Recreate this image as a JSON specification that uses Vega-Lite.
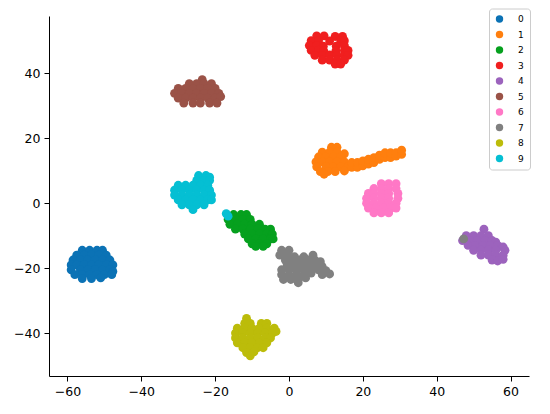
{
"$schema": "https://vega.github.io/schema/vega-lite/v6.json",
"width": 480, "height": 360,
"autosize": "none",
"padding": {"left": 49, "top": 16, "right": 21, "bottom": 38},
"background": "white",
"config": {"font": "DejaVu Sans", "view": {"stroke": null},
 "axis": {"grid": false, "domainColor": "black", "tickColor": "black", "labelColor": "black", "labelFontSize": 12.5, "tickSize": 5, "labelPadding": 4, "title": null, "domainWidth": 1, "tickWidth": 1}},
"data": {"values": [
{"c":"0","x":-56,"y":-14.5},{"c":"0","x":-54,"y":-14.5},{"c":"0","x":-52,"y":-14.5},{"c":"0","x":-50.5,"y":-14.5},
{"c":"0","x":-57.5,"y":-16},{"c":"0","x":-55.5,"y":-16},{"c":"0","x":-53.5,"y":-16},{"c":"0","x":-51.5,"y":-16},{"c":"0","x":-49.5,"y":-16},
{"c":"0","x":-58.5,"y":-17.5},{"c":"0","x":-56.5,"y":-17.5},{"c":"0","x":-54.5,"y":-17.5},{"c":"0","x":-52.5,"y":-17.5},{"c":"0","x":-50.5,"y":-17.5},{"c":"0","x":-48.5,"y":-17.5},
{"c":"0","x":-59,"y":-19},{"c":"0","x":-57.5,"y":-19},{"c":"0","x":-55.5,"y":-19},{"c":"0","x":-53.5,"y":-19},{"c":"0","x":-51.5,"y":-19},{"c":"0","x":-49.5,"y":-19},{"c":"0","x":-47.7,"y":-19},
{"c":"0","x":-59,"y":-20.5},{"c":"0","x":-56.5,"y":-20.5},{"c":"0","x":-54.5,"y":-20.5},{"c":"0","x":-52.5,"y":-20.5},{"c":"0","x":-50.5,"y":-20.5},{"c":"0","x":-48.5,"y":-20.5},{"c":"0","x":-47.7,"y":-21},
{"c":"0","x":-58,"y":-22},{"c":"0","x":-56,"y":-22},{"c":"0","x":-54,"y":-22},{"c":"0","x":-52,"y":-22},{"c":"0","x":-50,"y":-22},{"c":"0","x":-48,"y":-22},
{"c":"0","x":-56,"y":-23.2},{"c":"0","x":-53.5,"y":-23.2},{"c":"0","x":-51,"y":-23},
{"c":"1","x":11.5,"y":17.2},{"c":"1","x":13,"y":17.2},
{"c":"1","x":9,"y":15.7},{"c":"1","x":11,"y":15.7},{"c":"1","x":13,"y":15.7},{"c":"1","x":15,"y":15.2},
{"c":"1","x":8,"y":14.2},{"c":"1","x":10,"y":14.2},{"c":"1","x":12,"y":14.2},{"c":"1","x":14,"y":14.2},
{"c":"1","x":7.3,"y":12.7},{"c":"1","x":9,"y":12.7},{"c":"1","x":11,"y":12.7},{"c":"1","x":13,"y":12.7},{"c":"1","x":15,"y":12.7},
{"c":"1","x":7.5,"y":11.2},{"c":"1","x":10,"y":11.2},{"c":"1","x":12,"y":11.2},{"c":"1","x":14,"y":11.2},{"c":"1","x":16,"y":11.2},
{"c":"1","x":8.5,"y":9.7},{"c":"1","x":10.5,"y":9.7},{"c":"1","x":12.5,"y":9.7},{"c":"1","x":15,"y":9.9},{"c":"1","x":9.5,"y":8.9},
{"c":"1","x":17,"y":11},{"c":"1","x":17,"y":12.5},{"c":"1","x":18.5,"y":11},{"c":"1","x":18.5,"y":12.5},{"c":"1","x":20,"y":11.5},{"c":"1","x":20,"y":13},
{"c":"1","x":21.5,"y":12},{"c":"1","x":21.5,"y":13.5},{"c":"1","x":23,"y":12.5},{"c":"1","x":23,"y":14},{"c":"1","x":24.5,"y":13.5},{"c":"1","x":24.5,"y":14.8},
{"c":"1","x":26,"y":14},{"c":"1","x":26,"y":15.5},{"c":"1","x":27.5,"y":14},{"c":"1","x":27.5,"y":15.5},{"c":"1","x":29,"y":14.5},{"c":"1","x":29,"y":15.5},
{"c":"1","x":30.5,"y":15},{"c":"1","x":30.5,"y":16.3},
{"c":"2","x":-15,"y":-3.5},{"c":"2","x":-13,"y":-3.5},{"c":"2","x":-11.5,"y":-3.5},
{"c":"2","x":-16.5,"y":-5},{"c":"2","x":-14.5,"y":-5},{"c":"2","x":-12.5,"y":-5},{"c":"2","x":-10.5,"y":-5},
{"c":"2","x":-16,"y":-6.5},{"c":"2","x":-14,"y":-6.5},{"c":"2","x":-12,"y":-6.5},{"c":"2","x":-10,"y":-6.5},{"c":"2","x":-8,"y":-6.5},
{"c":"2","x":-14.5,"y":-8},{"c":"2","x":-12.5,"y":-8},{"c":"2","x":-10.5,"y":-8},{"c":"2","x":-8.5,"y":-8},{"c":"2","x":-6.5,"y":-8},{"c":"2","x":-5,"y":-8},
{"c":"2","x":-12,"y":-9.5},{"c":"2","x":-10,"y":-9.5},{"c":"2","x":-8,"y":-9.5},{"c":"2","x":-6,"y":-9.5},{"c":"2","x":-4.5,"y":-9.5},
{"c":"2","x":-11,"y":-11},{"c":"2","x":-9,"y":-11},{"c":"2","x":-7,"y":-11},{"c":"2","x":-5,"y":-11},{"c":"2","x":-4.3,"y":-11},
{"c":"2","x":-10,"y":-12.5},{"c":"2","x":-8,"y":-12.5},{"c":"2","x":-6,"y":-12.5},
{"c":"2","x":-9,"y":-13.3},{"c":"2","x":-7,"y":-13.3},
{"c":"3","x":7.5,"y":51.5},{"c":"3","x":9.5,"y":51.5},{"c":"3","x":12.5,"y":51.3},{"c":"3","x":14.5,"y":51.3},
{"c":"3","x":6,"y":50},{"c":"3","x":8,"y":50},{"c":"3","x":11,"y":49.9},{"c":"3","x":14,"y":50},{"c":"3","x":15,"y":50},
{"c":"3","x":5.5,"y":48.5},{"c":"3","x":7.5,"y":48.5},{"c":"3","x":9.3,"y":48.3},{"c":"3","x":12.8,"y":48.3},{"c":"3","x":15,"y":48.5},
{"c":"3","x":6,"y":47},{"c":"3","x":8,"y":47},{"c":"3","x":9.4,"y":46.9},{"c":"3","x":12.7,"y":46.9},{"c":"3","x":15,"y":47},{"c":"3","x":16,"y":47},
{"c":"3","x":7,"y":45.5},{"c":"3","x":9,"y":45.5},{"c":"3","x":11,"y":45.6},{"c":"3","x":13,"y":45.5},{"c":"3","x":15,"y":45.5},{"c":"3","x":16,"y":45.5},
{"c":"3","x":9,"y":44},{"c":"3","x":11,"y":44},{"c":"3","x":13,"y":44},{"c":"3","x":15,"y":44},
{"c":"3","x":12.5,"y":42.8},{"c":"3","x":14,"y":42.8},
{"c":"4","x":52.8,"y":-8},
{"c":"4","x":48,"y":-10},{"c":"4","x":50,"y":-10},{"c":"4","x":52,"y":-10},{"c":"4","x":54,"y":-10},
{"c":"4","x":47,"y":-11.5},{"c":"4","x":49,"y":-11.5},{"c":"4","x":51,"y":-11.5},{"c":"4","x":53,"y":-11.5},{"c":"4","x":55,"y":-11.5},{"c":"4","x":56,"y":-12},
{"c":"4","x":48.5,"y":-13},{"c":"4","x":50.5,"y":-13},{"c":"4","x":52.5,"y":-13},{"c":"4","x":54.5,"y":-13},{"c":"4","x":56.5,"y":-13},{"c":"4","x":58,"y":-13.5},
{"c":"4","x":50,"y":-14.5},{"c":"4","x":52,"y":-14.5},{"c":"4","x":54,"y":-14.5},{"c":"4","x":56,"y":-14.5},{"c":"4","x":58.5,"y":-14.5},
{"c":"4","x":52,"y":-16},{"c":"4","x":54,"y":-16},{"c":"4","x":56,"y":-16},{"c":"4","x":58,"y":-16},
{"c":"4","x":55,"y":-17.5},{"c":"4","x":56.5,"y":-17.8},{"c":"4","x":58,"y":-17.3},
{"c":"5","x":-23.5,"y":38},
{"c":"5","x":-27,"y":36.8},{"c":"5","x":-25,"y":36.8},{"c":"5","x":-23,"y":36.8},{"c":"5","x":-21,"y":36.8},
{"c":"5","x":-30,"y":35.3},{"c":"5","x":-28,"y":35.3},{"c":"5","x":-26,"y":35.3},{"c":"5","x":-24,"y":35.3},{"c":"5","x":-22,"y":35.3},{"c":"5","x":-20,"y":35.3},
{"c":"5","x":-31,"y":33.8},{"c":"5","x":-29,"y":33.8},{"c":"5","x":-27,"y":33.8},{"c":"5","x":-25,"y":33.8},{"c":"5","x":-23,"y":33.8},{"c":"5","x":-21,"y":33.8},{"c":"5","x":-19,"y":33.8},
{"c":"5","x":-30,"y":32.3},{"c":"5","x":-28,"y":32.3},{"c":"5","x":-26,"y":32.3},{"c":"5","x":-24,"y":32.3},{"c":"5","x":-22,"y":32.3},{"c":"5","x":-20,"y":32.3},{"c":"5","x":-18.5,"y":32.8},
{"c":"5","x":-28.5,"y":30.8},{"c":"5","x":-26,"y":30.8},{"c":"5","x":-24,"y":30.8},{"c":"5","x":-21.5,"y":30.8},{"c":"5","x":-19.5,"y":30.8},
{"c":"6","x":25,"y":6},{"c":"6","x":27,"y":6},{"c":"6","x":29,"y":6},
{"c":"6","x":23,"y":4.5},{"c":"6","x":25,"y":4.5},{"c":"6","x":27,"y":4.5},{"c":"6","x":29,"y":4.5},
{"c":"6","x":21.5,"y":3},{"c":"6","x":23,"y":3},{"c":"6","x":25,"y":3},{"c":"6","x":27,"y":3},{"c":"6","x":29.5,"y":3},
{"c":"6","x":21,"y":1.5},{"c":"6","x":23,"y":1.5},{"c":"6","x":25,"y":1.5},{"c":"6","x":27,"y":1.5},{"c":"6","x":29.5,"y":1.5},
{"c":"6","x":21,"y":0},{"c":"6","x":23,"y":0},{"c":"6","x":25,"y":0},{"c":"6","x":27,"y":0},{"c":"6","x":29,"y":0},
{"c":"6","x":21.5,"y":-1.5},{"c":"6","x":23.5,"y":-1.5},{"c":"6","x":25.5,"y":-1.5},{"c":"6","x":27.5,"y":-1.5},{"c":"6","x":29,"y":-1.5},
{"c":"6","x":23,"y":-3},{"c":"6","x":25,"y":-3},{"c":"6","x":27,"y":-3},
{"c":"7","x":47.3,"y":-11},
{"c":"7","x":-2,"y":-14.5},{"c":"7","x":0,"y":-14.5},
{"c":"7","x":-2.5,"y":-16},{"c":"7","x":-0.5,"y":-16},{"c":"7","x":1.5,"y":-16.5},{"c":"7","x":4,"y":-16.5},{"c":"7","x":6.5,"y":-16},
{"c":"7","x":-1,"y":-17.5},{"c":"7","x":1,"y":-17.5},{"c":"7","x":3,"y":-17.5},{"c":"7","x":5,"y":-17.5},{"c":"7","x":7,"y":-17.5},{"c":"7","x":8.5,"y":-18},
{"c":"7","x":-0.5,"y":-19},{"c":"7","x":1.5,"y":-19},{"c":"7","x":3.5,"y":-19},{"c":"7","x":5.5,"y":-19},{"c":"7","x":7.5,"y":-19},{"c":"7","x":9,"y":-19.5},
{"c":"7","x":-2,"y":-20.5},{"c":"7","x":0,"y":-20.5},{"c":"7","x":2,"y":-20.5},{"c":"7","x":4,"y":-20.5},{"c":"7","x":6,"y":-20.5},{"c":"7","x":8,"y":-20.5},{"c":"7","x":10,"y":-20.8},
{"c":"7","x":-2,"y":-22},{"c":"7","x":0,"y":-22},{"c":"7","x":2,"y":-22},{"c":"7","x":4,"y":-22},{"c":"7","x":6,"y":-21.5},{"c":"7","x":9,"y":-22},{"c":"7","x":11,"y":-21.8},
{"c":"7","x":-1.5,"y":-23.5},{"c":"7","x":0.5,"y":-23.5},{"c":"7","x":2.5,"y":-23.5},{"c":"7","x":4.5,"y":-23},
{"c":"7","x":2.5,"y":-24.5},
{"c":"8","x":-11.5,"y":-35.5},
{"c":"8","x":-12,"y":-37},{"c":"8","x":-10.5,"y":-37},{"c":"8","x":-7.5,"y":-37},{"c":"8","x":-6,"y":-37},
{"c":"8","x":-14,"y":-38.5},{"c":"8","x":-12,"y":-38.5},{"c":"8","x":-10,"y":-38.5},{"c":"8","x":-8,"y":-38.5},{"c":"8","x":-6,"y":-38.5},{"c":"8","x":-4,"y":-38.5},
{"c":"8","x":-14.5,"y":-40},{"c":"8","x":-12.5,"y":-40},{"c":"8","x":-10.5,"y":-40},{"c":"8","x":-8.5,"y":-40},{"c":"8","x":-6.5,"y":-40},{"c":"8","x":-4.5,"y":-40},{"c":"8","x":-3.5,"y":-39.5},
{"c":"8","x":-14.5,"y":-41.5},{"c":"8","x":-12.5,"y":-41.5},{"c":"8","x":-10.5,"y":-41.5},{"c":"8","x":-8.5,"y":-41.5},{"c":"8","x":-6.5,"y":-41.5},{"c":"8","x":-5,"y":-41.5},
{"c":"8","x":-14,"y":-43},{"c":"8","x":-12,"y":-43},{"c":"8","x":-10,"y":-43},{"c":"8","x":-8,"y":-43},{"c":"8","x":-6,"y":-43},
{"c":"8","x":-12.5,"y":-44.5},{"c":"8","x":-10.5,"y":-44.5},{"c":"8","x":-8.5,"y":-44.5},{"c":"8","x":-7,"y":-44.5},
{"c":"8","x":-11.5,"y":-46},{"c":"8","x":-9.5,"y":-45.8},{"c":"8","x":-10.5,"y":-47},
{"c":"9","x":-24.5,"y":8.5},{"c":"9","x":-22.5,"y":8.5},{"c":"9","x":-21.5,"y":8},
{"c":"9","x":-25,"y":7},{"c":"9","x":-23,"y":7},{"c":"9","x":-21.5,"y":7},
{"c":"9","x":-30,"y":5.5},{"c":"9","x":-28,"y":5.5},{"c":"9","x":-26,"y":5.5},{"c":"9","x":-24,"y":5.5},{"c":"9","x":-22,"y":5.5},
{"c":"9","x":-31,"y":4},{"c":"9","x":-29,"y":4},{"c":"9","x":-27,"y":4},{"c":"9","x":-25,"y":4},{"c":"9","x":-23,"y":4},{"c":"9","x":-21.5,"y":4},
{"c":"9","x":-31,"y":2.5},{"c":"9","x":-29,"y":2.5},{"c":"9","x":-27,"y":2.5},{"c":"9","x":-25,"y":2.5},{"c":"9","x":-23,"y":2.5},{"c":"9","x":-21,"y":2.5},
{"c":"9","x":-30,"y":1},{"c":"9","x":-28,"y":1},{"c":"9","x":-26,"y":1},{"c":"9","x":-24,"y":1},{"c":"9","x":-22,"y":1},{"c":"9","x":-21,"y":1},
{"c":"9","x":-29,"y":-0.5},{"c":"9","x":-27,"y":-0.5},{"c":"9","x":-25,"y":-0.5},{"c":"9","x":-23,"y":-0.5},
{"c":"9","x":-26,"y":-2},
{"c":"9","x":-17,"y":-3.2},{"c":"9","x":-16.5,"y":-4}
]},
"mark": {"type": "circle", "size": 78, "opacity": 1},
"encoding": {
 "x": {"field": "x", "type": "quantitative", "scale": {"domain": [-65, 65], "nice": false, "zero": false}, "axis": {"values": [-60, -40, -20, 0, 20, 40, 60], "title": null}},
 "y": {"field": "y", "type": "quantitative", "scale": {"domain": [-53.2, 57.6], "nice": false, "zero": false}, "axis": {"values": [-40, -20, 0, 20, 40], "title": null}},
 "color": {"field": "c", "type": "nominal",
  "scale": {"domain": ["0","1","2","3","4","5","6","7","8","9"], "range": ["#0b72b5","#ff7f0e","#06a01e","#f01f1f","#9c63bd","#9a5247","#ff78c6","#808080","#bcbc0a","#05bfd3"]},
  "legend": {"orient": "none", "legendX": 440, "legendY": -7.5, "title": null, "padding": 6, "symbolSize": 55, "symbolType": "circle", "labelFontSize": 9, "labelOffset": 14, "rowPadding": 5.5, "strokeColor": "#cccccc", "fillColor": "white", "cornerRadius": 3, "labelColor": "black"}}
}
}
